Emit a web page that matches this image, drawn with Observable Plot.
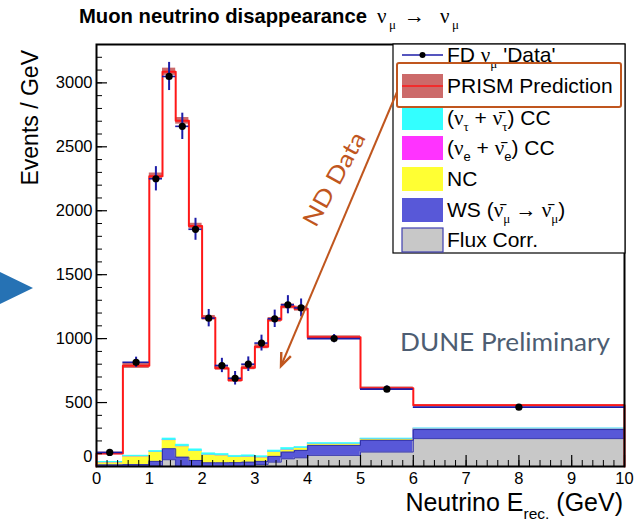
<!DOCTYPE html>
<html><head><meta charset="utf-8">
<script src="https://cdn.jsdelivr.net/npm/d3@7"></script>
<script src="https://cdn.jsdelivr.net/npm/@observablehq/plot@0.6"></script>
<style>
body{margin:0;background:#fff;}
#chart{position:relative;width:644px;height:525px;}
</style></head><body><div id="chart"></div>
<script>
// ---- data (Events / GeV) ----
const binLo = [0, 0.5, 1.0, 1.25, 1.5, 1.75, 2.0, 2.25, 2.5, 2.75, 3.0, 3.25, 3.5, 3.75, 4, 5, 6];
const binHi = [0.5, 1.0, 1.25, 1.5, 1.75, 2.0, 2.25, 2.5, 2.75, 3.0, 3.25, 3.5, 3.75, 4, 5, 6, 10];
const prism    = [102, 787, 2270, 3087, 2703, 1880, 1163, 769, 675, 772, 937, 1147, 1252, 1234, 1010, 612, 478];
const prismErr = [10, 20, 25, 28, 26, 22, 18, 15, 14, 15, 16, 18, 19, 19, 12, 10, 6];
const fdData   = [110, 815, 2250, 3050, 2660, 1855, 1160, 790, 690, 800, 965, 1155, 1265, 1240, 1000, 605, 464];
const fdErr    = [15, 40, 95, 110, 103, 86, 68, 56, 53, 57, 62, 68, 71, 70, 32, 25, 11];
const fluxCorr = [5, 3, 5, 53, 0, 0, 0, 2, 3, 5, 15, 34, 60, 68, 87, 113, 218];
const wsNumu   = [8, 12, 35, 86, 73, 47, 29, 27, 27, 29, 25, 45, 53, 58, 78, 92, 71];
const ncBkg    = [18, 63, 73, 66, 84, 73, 62, 57, 43, 42, 30, 34, 18, 18, 11, 10, 6];
const nueCC    = [1, 1, 1, 1, 1, 1, 1, 1, 1, 1, 1, 1, 1, 1, 1, 1, 1];
const nutauCC  = [3, 6, 8, 13, 13, 13, 11, 11, 10, 10, 9, 11, 13, 8, 7, 3, 2];
const xTicks = [0, 1, 2, 3, 4, 5, 6, 7, 8, 9, 10];
const yTicks = [500, 1000, 1500, 2000, 2500, 3000];

// ---- layout ----
const W = 644, H = 525, mL = 96, mR = 20, mT = 44, mB = 59;
const yMax = 3300;
const yPerPx = yMax / (H - mT - mB);
const xPerPx = 10 / (W - mL - mR);
const xMinor = d3.range(0, 10.001, 0.2).map(v => +v.toFixed(2));
const yMinor = d3.range(0, 3301, 100);

const comps = [
  {vals: fluxCorr, color: "#c8c8c8"},
  {vals: wsNumu,   color: "#5858d8"},
  {vals: ncBkg,    color: "#ffff33"},
  {vals: nueCC,    color: "#ff33ff"},
  {vals: nutauCC,  color: "#33ffff"}
];
const stackRects = [];
const fluxTop = [], wsTop = [];
binLo.forEach((lo, i) => {
  let cum = 0;
  comps.forEach((c, k) => {
    const y1 = cum; cum += c.vals[i];
    stackRects.push({lo, hi: binHi[i], y1, y2: cum, color: c.color});
    if (k === 0) fluxTop.push(cum);
    if (k === 1) wsTop.push(cum);
  });
});
function steps(vals, close) {
  const pts = [];
  if (close) pts.push({x: binLo[0], y: 0});
  binLo.forEach((lo, i) => { pts.push({x: lo, y: vals[i]}); pts.push({x: binHi[i], y: vals[i]}); });
  if (close) pts.push({x: binHi[binHi.length - 1], y: 0});
  return pts;
}
const bins = binLo.map((lo, i) => ({
  lo, hi: binHi[i], mid: (lo + binHi[i]) / 2,
  p: prism[i], pe: prismErr[i], d: fdData[i], de: fdErr[i]
}));

const chart = Plot.plot({
  width: W, height: H,
  marginLeft: mL, marginRight: mR, marginTop: mT, marginBottom: mB,
  style: {fontFamily: "'Liberation Sans', Arial, sans-serif", background: "white"},
  x: {domain: [0, 10]},
  y: {domain: [0, yMax]},
  marks: [
    Plot.rectY(stackRects, {x1: "lo", x2: "hi", y1: "y1", y2: "y2", fill: "color", stroke: "color", strokeWidth: 0.6}),
    Plot.line(steps(fluxTop, false), {x: "x", y: "y", stroke: "#3b3bb0", strokeWidth: 1}),
    Plot.line(steps(wsTop, false), {x: "x", y: "y", stroke: "#3030a8", strokeWidth: 1}),
    Plot.rectY(bins, {x1: "lo", x2: "hi", y1: d => d.p - d.pe, y2: d => d.p + d.pe, fill: "#cc6a6a"}),
    Plot.line(steps(prism, true), {x: "x", y: "y", stroke: "#ff1818", strokeWidth: 2}),
    Plot.ruleY(bins, {y: "d", x1: "lo", x2: "hi", stroke: "#1c1ca8", strokeWidth: 1.6}),
    Plot.ruleX(bins, {x: "mid", y1: d => d.d - d.de, y2: d => d.d + d.de, stroke: "#1c1ca8", strokeWidth: 2}),
    Plot.dot(bins, {x: "mid", y: "d", r: 3.6, fill: "black"}),
    // inward ticks (ROOT style)
    Plot.ruleX(xMinor, {x: d => d, y1: 0, y2: 6 * yPerPx, stroke: "black", strokeWidth: 1}),
    Plot.ruleX(xTicks, {x: d => d, y1: 0, y2: 11 * yPerPx, stroke: "black", strokeWidth: 1.2}),
    Plot.ruleY(yMinor, {y: d => d, x1: 0, x2: 6 * xPerPx, stroke: "black", strokeWidth: 1}),
    Plot.ruleY([0, ...yTicks], {y: d => d, x1: 0, x2: 11 * xPerPx, stroke: "black", strokeWidth: 1.2}),
    Plot.axisX({ticks: xTicks, tickSize: 0, tickPadding: 6, fontSize: 16.5, label: null, tickFormat: d => String(d)}),
    Plot.axisY({ticks: yTicks, tickSize: 0, tickPadding: 4, fontSize: 16.5, label: null, tickFormat: d => String(d)}),
    Plot.text(["0"], {x: 0, y: 0, dx: -4, dy: -10, textAnchor: "end", fontSize: 16.5}),
    Plot.frame({stroke: "black", strokeWidth: 2})
  ]
});
document.getElementById("chart").appendChild(chart);
const svg = d3.select(chart);

function rich(parent, x, y, parts, o) {
  const size = o.size;
  const t = parent.append("text").attr("x", x).attr("y", y)
    .attr("font-size", size).attr("font-family", o.family || "'Liberation Sans', Arial, sans-serif")
    .attr("font-weight", o.weight || "normal").attr("fill", o.fill || "black")
    .attr("text-anchor", o.anchor || "start");
  if (o.rotate) t.attr("transform", `rotate(${o.rotate},${x},${y})`);
  if (o.length) t.attr("textLength", o.length).attr("lengthAdjust", "spacingAndGlyphs");
  let shift = 0;
  for (const p of parts) {
    const q = typeof p === "string" ? {t: p} : p;
    const s = t.append("tspan").text(q.bar ? q.t + "\u0304" : q.t);
    const target = q.sub ? size * 0.3 : 0;
    if (target !== shift) { s.attr("dy", target - shift); shift = target; }
    if (q.sub) s.attr("font-size", size * 0.62);
    if (q.serif) s.attr("font-family", "'Liberation Serif', 'DejaVu Serif', serif").attr("font-weight", "normal");
  }
  return t;
}

// title
rich(svg, 79, 23, ["Muon neutrino disappearance"], {size: 21, weight: "bold", length: 288});
const serif = "'Liberation Serif', 'DejaVu Serif', serif";
[["ν", 377, 23, 21], ["μ", 389, 29, 13], ["→", 404, 23, 21], ["ν", 440, 23, 21], ["μ", 452, 29, 13]]
  .forEach(([t, x, y, s]) => svg.append("text").attr("x", x).attr("y", y).attr("text-anchor", "start")
    .attr("font-family", serif).attr("font-size", s).attr("fill", "black").text(t));
// axis labels
rich(svg, 623, 511, ["Neutrino E", {t: "rec.", sub: true}, " (GeV)"], {size: 25, anchor: "end"});
rich(svg, 38, 50, ["Events / GeV"], {size: 23, anchor: "end", rotate: -90});

// legend
const lg = svg.append("g");
lg.append("rect").attr("x", 393).attr("y", 44).attr("width", 232).attr("height", 209)
  .attr("fill", "white").attr("stroke", "black").attr("stroke-width", 1.2);
const rowY = [55, 86, 118, 148, 179, 210, 240];
const sx = 402, sw = 41, sh = 24, tx = 447, fs = 21;
lg.append("line").attr("x1", sx).attr("x2", sx + sw).attr("y1", rowY[0]).attr("y2", rowY[0]).attr("stroke", "#1c1ca8").attr("stroke-width", 1.6);
lg.append("circle").attr("cx", sx + sw / 2).attr("cy", rowY[0]).attr("r", 3).attr("fill", "black");
lg.append("rect").attr("x", sx).attr("y", rowY[1] - sh / 2).attr("width", sw).attr("height", sh).attr("fill", "#cc6a6a");
lg.append("line").attr("x1", sx).attr("x2", sx + sw).attr("y1", rowY[1]).attr("y2", rowY[1]).attr("stroke", "#ff1818").attr("stroke-width", 1.5);
const swCols = ["#33ffff", "#ff33ff", "#ffff33", "#5858d8", "#c8c8c8"];
swCols.forEach((c, k) => {
  const r = lg.append("rect").attr("x", sx).attr("y", rowY[k + 2] - sh / 2).attr("width", sw).attr("height", sh).attr("fill", c);
  if (k === 4) r.attr("stroke", "#4040b0").attr("stroke-width", 1.2);
});
const labels = [
  ["FD ", {t: "ν", serif: true}, {t: "μ", sub: true, serif: true}, " 'Data'"],
  ["PRISM Prediction"],
  ["(", {t: "ν", serif: true}, {t: "τ", sub: true, serif: true}, " + ", {t: "ν", serif: true, bar: true}, {t: "τ", sub: true, serif: true}, ") CC"],
  ["(", {t: "ν", serif: true}, {t: "e", sub: true}, " + ", {t: "ν", serif: true, bar: true}, {t: "e", sub: true}, ") CC"],
  ["NC"],
  ["WS (", {t: "ν", serif: true, bar: true}, {t: "μ", sub: true, serif: true}, {t: " → ", serif: true}, {t: "ν", serif: true, bar: true}, {t: "μ", sub: true, serif: true}, ")"],
  ["Flux Corr."]
];
labels.forEach((p, k) => rich(lg, tx, rowY[k] + 7, p, {size: fs}));

// annotations
svg.append("rect").attr("x", 397).attr("y", 63).attr("width", 224).attr("height", 44).attr("rx", 2)
  .attr("fill", "none").attr("stroke", "#c0561e").attr("stroke-width", 2);
const a0 = [397, 92], a1 = [281, 366];
svg.append("line").attr("x1", a0[0]).attr("y1", a0[1]).attr("x2", a1[0]).attr("y2", a1[1])
  .attr("stroke", "#c0561e").attr("stroke-width", 2);
{
  const ang = Math.atan2(a1[1] - a0[1], a1[0] - a0[0]);
  const L = 14, w = 0.38;
  const p1 = [a1[0] - L * Math.cos(ang - w), a1[1] - L * Math.sin(ang - w)];
  const p2 = [a1[0] - L * Math.cos(ang + w), a1[1] - L * Math.sin(ang + w)];
  svg.append("path").attr("d", `M${p1}L${a1}L${p2}`).attr("fill", "none").attr("stroke", "#c0561e").attr("stroke-width", 2.4).attr("stroke-linejoin", "miter");
}
svg.append("text").attr("x", 341).attr("y", 183).attr("text-anchor", "middle")
  .attr("transform", "rotate(-61,341,183)")
  .attr("font-family", "Lato, 'Open Sans', sans-serif").attr("font-weight", 400)
  .attr("font-size", 23).attr("textLength", 104).attr("lengthAdjust", "spacingAndGlyphs")
  .attr("fill", "#c0561e").text("ND Data");
svg.append("text").attr("x", 400).attr("y", 351).attr("text-anchor", "start")
  .attr("font-family", "Lato, 'Open Sans', sans-serif").attr("font-size", 25)
  .attr("textLength", 210).attr("lengthAdjust", "spacingAndGlyphs")
  .attr("fill", "#4d5d72").text("DUNE Preliminary");
svg.append("polygon").attr("points", "0,272 33,288 0,304").attr("fill", "#2672b4");
</script></body></html>
